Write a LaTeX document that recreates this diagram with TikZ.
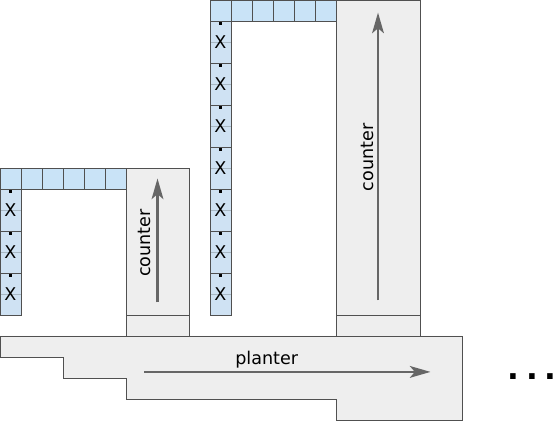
\documentclass[tikz,border=0pt]{standalone}
\usepackage{fontspec}
\setmainfont{DejaVu Sans}
\usetikzlibrary{positioning,arrows.meta}
\definecolor{rowblue}{HTML}{C9E3F7}
\definecolor{colblue}{HTML}{CFE2F3}
\definecolor{boxgrey}{HTML}{EEEEEE}
\definecolor{edgegrey}{HTML}{505050}
\definecolor{gridgrey}{HTML}{A8B8C4}
\definecolor{arrowgrey}{HTML}{666666}

\begin{document}
\begin{tikzpicture}[x=0.5cm, y=0.5cm, font=\fontsize{11.9}{14}\selectfont,
    cell/.style={draw=edgegrey, line width=0.6pt, fill=rowblue, minimum size=0.5cm,
      inner sep=0pt, outer sep=0pt},
    xcell/.style={draw=edgegrey, line width=0.6pt, fill=colblue, minimum width=0.5cm,
      minimum height=1cm, inner sep=0pt, outer sep=0pt,
      path picture={\draw[gridgrey, line width=0.4pt] (path picture bounding box.west) -- (path picture bounding box.east);}},
    box/.style={draw=edgegrey, line width=0.6pt, fill=boxgrey, inner sep=0pt, outer sep=0pt},
    flow/.style={draw=arrowgrey, line width=1.4pt, -{Stealth[length=14pt,width=8pt,inset=3.4pt]}}]
  \useasboundingbox (0,-0.05) rectangle (26.381,20);

  % planter
  \draw[box] (0,4) -| (22,0) -| (16,1) -| (6,2) -| (3,3) -| (0,4) -- cycle;
  \coordinate (pa) at (6.86,2.29);
  \coordinate (pb) at (20.5,2.29);
  \draw[flow] (pa) -- (pb);
  \node (plabel) at (12.7,2.86) {planter};

  % small counter
  \node[box, minimum width=1.5cm, minimum height=3.5cm, anchor=north west] (sbody) at (6,12) {};
  \node[box, minimum width=1.5cm, minimum height=0.5cm, below=0pt of sbody] (sfoot) {};
  \coordinate (sa) at (7.5,5.6);
  \coordinate (sb) at (7.5,11.5);
  \draw[flow] (sa) -- (sb);
  \node[rotate=90] (slabel) at (6.9,8.43) {counter};

  \node[cell] (sr1) at (0.5,11.5) {};
  \foreach \i [count=\j from 2] in {1,...,5}
    \node[cell, right=0pt of sr\i] (sr\j) {};
  \node[xcell, below=0pt of sr1] (sc1) {X};
  \foreach \i [count=\j from 2] in {1,2}
    \node[xcell, below=0pt of sc\i] (sc\j) {X};
  \foreach \i in {1,2,3}
    \fill (sc\i.north) ++(-0.7pt,-0.6pt) rectangle ++(1.4pt,-1.8pt);

  % big counter
  \node[box, minimum width=2cm, minimum height=7.5cm, anchor=north west] (bbody) at (16,20) {};
  \node[box, minimum width=2cm, minimum height=0.5cm, below=0pt of bbody] (bfoot) {};
  \coordinate (ba) at (18,5.7);
  \coordinate (bb) at (18,19.4);
  \draw[flow] (ba) -- (bb);
  \node[rotate=90] (blabel) at (17.5,12.5) {counter};

  \node[cell] (br1) at (10.5,19.5) {};
  \foreach \i [count=\j from 2] in {1,...,5}
    \node[cell, right=0pt of br\i] (br\j) {};
  \node[xcell, below=0pt of br1] (bc1) {X};
  \foreach \i [count=\j from 2] in {1,...,6}
    \node[xcell, below=0pt of bc\i] (bc\j) {X};
  \foreach \i in {1,...,7}
    \fill (bc\i.north) ++(-0.7pt,-0.6pt) rectangle ++(1.4pt,-1.8pt);

  % more to come
  \node[font=\fontsize{21}{24}\selectfont\bfseries] (more) at (25.33,2.05) {.\kern4.5pt.\kern4.5pt.};
\end{tikzpicture}
\end{document}
